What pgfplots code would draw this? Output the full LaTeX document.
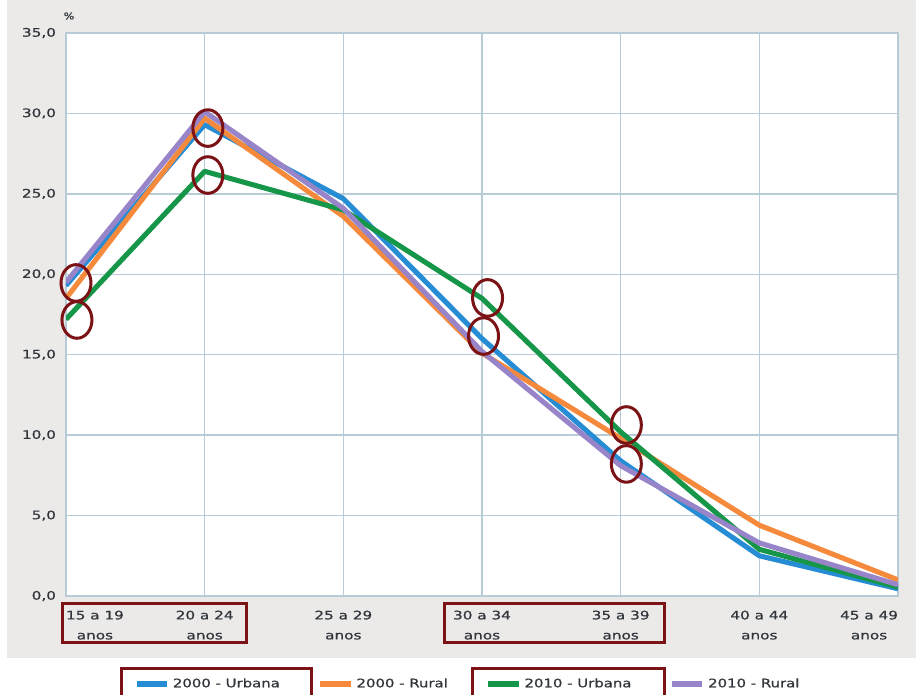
\documentclass[border=0pt]{standalone}
\usepackage{pgfplots}
\pgfplotsset{compat=1.18}
\usepackage{fontspec}
\setmainfont{DejaVu Sans}[FakeBold=0.7]
\usepackage{graphicx}

\definecolor{urb00}{RGB}{38,140,212}
\definecolor{rur00}{RGB}{245,138,60}
\definecolor{urb10}{RGB}{22,150,72}
\definecolor{rur10}{RGB}{152,132,200}
\definecolor{gridc}{RGB}{184,204,216}
\definecolor{bggray}{RGB}{236,234,233}
\definecolor{txt}{RGB}{50,54,60}
\definecolor{hilite}{RGB}{122,18,22}

% two-line age label, stretched like the original
\newcommand{\tl}[1]{\scalebox{1.3}[1]{\begin{tabular}{@{}c@{}}#1\\anos\end{tabular}}}

\begin{document}
\begin{tikzpicture}
\useasboundingbox (0pt,0pt) rectangle (687pt,521.25pt);
\fill[white] (0pt,0pt) rectangle (687pt,521.25pt);
\begin{scope}[x=0.75pt,y=-0.75pt,shift={(0pt,521.25pt)}]
  \fill[bggray] (7,0) rectangle (916,658);
\end{scope}

\begin{axis}[
    scale only axis,
    at={(49.5pt,74.25pt)}, anchor=south west,
    width=624pt, height=422.25pt,
    xmin=0, xmax=6,
    ymin=0, ymax=35,
    xtick={0,...,6},
    xticklabels={
      \makebox[0pt][l]{\tl{15 a 19}},
      \tl{20 a 24},\tl{25 a 29},\tl{30 a 34},\tl{35 a 39},\tl{40 a 44},
      \makebox[0pt][r]{\tl{45 a 49}}},
    ytick={0,5,...,35},
    yticklabel={\scalebox{1.3}[1]{\pgfmathprintnumber{\tick}}},
    /pgf/number format/.cd, fixed, fixed zerofill, precision=1, use comma, assume math mode=true,
    /pgfplots/.cd,
    major tick length=0pt,
    grid=major,
    grid style={gridc, line width=1.1pt},
    axis line style={gridc, line width=1.1pt},
    axis background/.style={fill=white},
    tick label style={font=\fontsize{8.8}{15}\selectfont, text=txt},
    xticklabel style={yshift=-3.5pt},
    yticklabel style={xshift=-4pt},
    every axis plot/.append style={line width=3.8pt, line join=round, mark=none},
    legend columns=4,
    legend style={at={(axis description cs:0.483,-0.156)}, anchor=center,
      draw=none, fill=none, font=\fontsize{8.8}{10}\selectfont, text=txt,
      /tikz/every even column/.append style={column sep=26pt}},
    legend image code/.code={\draw[#1, line width=4.5pt, line cap=butt] (0pt,0pt) -- (23pt,0pt);},
]
\addplot[urb00] coordinates {(0,19.3)(1,29.3)(2,24.7)(3,16.0)(4,8.4)(5,2.5)(6,0.45)};
\addlegendentry{\scalebox{1.27}[1]{2000 - Urbana}}
\addplot[rur00] coordinates {(0,18.5)(1,29.7)(2,23.6)(3,15.1)(4,9.8)(5,4.4)(6,1.0)};
\addlegendentry{\scalebox{1.27}[1]{2000 - Rural}}
\addplot[urb10] coordinates {(0,17.2)(1,26.4)(2,24.0)(3,18.5)(4,10.2)(5,2.9)(6,0.55)};
\addlegendentry{\scalebox{1.27}[1]{2010 - Urbana}}
\addplot[rur10] coordinates {(0,19.5)(1,30.1)(2,24.1)(3,15.2)(4,8.1)(5,3.3)(6,0.7)};
\addlegendentry{\scalebox{1.27}[1]{2010 - Rural}}

% highlighted points (annotation ellipses)
\addplot[forget plot, only marks, mark=o, mark size=11.25pt,
  mark options={draw=hilite, line width=2.25pt, yscale=1.22}]
  coordinates {(0.072,19.46)(0.079,17.16)(1.023,29.09)(1.023,26.17)
               (3.04,18.53)(3.011,16.16)(4.041,10.63)(4.041,8.21)};
\end{axis}

\begin{scope}[x=0.75pt,y=-0.75pt,shift={(0pt,521.25pt)}]
  \node[font=\fontsize{7}{8}\selectfont, text=txt, inner sep=0pt]
    at (69,16) {\scalebox{1.2}[1]{\%}};
  \draw[hilite, line width=2.25pt] (62,604) rectangle (246,643);
  \draw[hilite, line width=2.25pt] (444,604) rectangle (664,643);
  \draw[hilite, line width=2.25pt] (121,669) rectangle (311,697);
  \draw[hilite, line width=2.25pt] (472,669) rectangle (664,697);
\end{scope}
\end{tikzpicture}
\end{document}
